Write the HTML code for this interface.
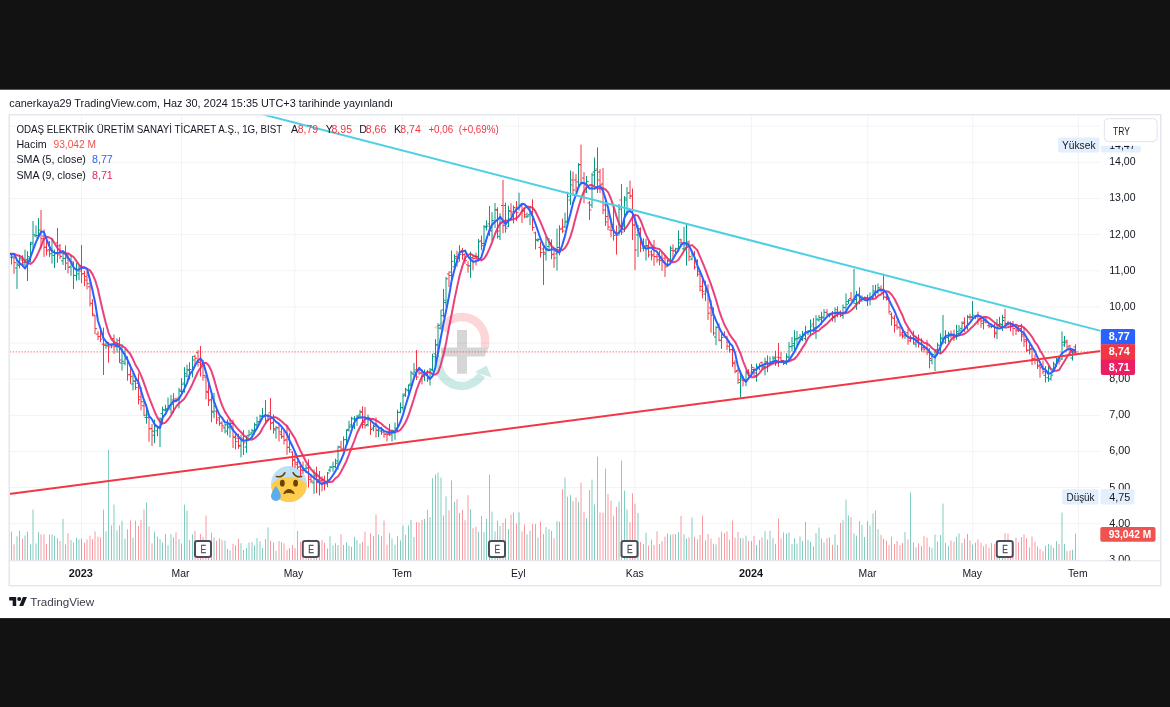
<!DOCTYPE html>
<html lang="tr"><head><meta charset="utf-8"><title>ODAŞ ELEKTRİK — TradingView</title>
<style>
html,body{margin:0;padding:0;background:#121212;}
body{width:1170px;height:707px;overflow:hidden;position:relative;font-family:"Liberation Sans",sans-serif;}
svg text{font-family:"Liberation Sans",sans-serif;}
</style></head><body>
<svg width="1170" height="707" viewBox="0 0 1170 707" style="position:absolute;left:0;top:0"><defs><clipPath id="plot"><rect x="9.7" y="115.2" width="1090.6" height="445.40000000000003"/></clipPath><clipPath id="scale"><rect x="1100.3" y="115.2" width="60.5" height="445.40000000000003"/></clipPath></defs><rect x="0" y="89.7" width="1170" height="528.4" fill="#fff"/><path d="M9.7 523.8H1100.3M9.7 487.6H1100.3M9.7 451.5H1100.3M9.7 415.4H1100.3M9.7 379.2H1100.3M9.7 343.1H1100.3M9.7 306.9H1100.3M9.7 270.8H1100.3M9.7 234.6H1100.3M9.7 198.5H1100.3M9.7 162.3H1100.3M9.7 126.2H1100.3M81.5 115.2V560.6M181.5 115.2V560.6M294.8 115.2V560.6M402.5 115.2V560.6M518.5 115.2V560.6M634.8 115.2V560.6M751.4 115.2V560.6M867.8 115.2V560.6M972.8 115.2V560.6M1078.4 115.2V560.6" stroke="#f1f3f6" stroke-width="1" fill="none"/><g opacity="0.2" fill="none" stroke-width="8.5"><path d="M485.1 347.4V341A23.4 23.4 0 0 0 442.5 327" stroke="#f23645"/><path d="M433.4 327.6 L449.5 333.6 L446.8 319.5 Z" fill="#f23645" stroke="none"/><path d="M438.3 356.6V362.5A23.4 23.4 0 0 0 481.5 375" stroke="#089981"/><path d="M486.5 365.5 L475 372 L491.5 377.5 Z" fill="#089981" stroke="none"/></g><path d="M457 330h10v17.4h21.5l-4 9.2h-17.5v17.2h-10v-17.2h-16v-9.2h16z" fill="#000" opacity="0.16"/><g transform="translate(271,466)"><clipPath id="face"><circle cx="18" cy="18" r="18"/></clipPath><circle cx="18" cy="18" r="18" fill="#bfdff5"/><ellipse cx="18" cy="25.5" rx="20" ry="14.5" fill="#ffcc4d" clip-path="url(#face)"/><ellipse cx="11.3" cy="17.2" rx="2.4" ry="3.4" fill="#664500"/><ellipse cx="24.6" cy="17.2" rx="2.4" ry="3.4" fill="#664500"/><path d="M5.5 10.5c3.5.8 6.6-.6 8.3-3.7" stroke="#664500" stroke-width="1.7" fill="none" stroke-linecap="round"/><path d="M30.5 10.5c-3.5.8-6.6-.6-8.3-3.7" stroke="#664500" stroke-width="1.7" fill="none" stroke-linecap="round"/><path d="M12.8 27.6c.8-2.4 2.7-4 5.2-4s4.400 1.600 5.200 4c-1.500-.8-3.200-1.100-5.200-1.100s-3.700.3-5.200 1.100z" fill="#664500" stroke="#664500" stroke-width="1" stroke-linejoin="round"/><path d="M9.800 30c0 2.700-2.200 4.900-4.900 4.900S0 32.700 0 30s3.900-9.800 4.900-9.800S9.800 27.300 9.800 30z" fill="#5dadec"/></g><g clip-path="url(#plot)"><path d="M9.0 560.6v-27.3M11.5 560.6v-28.9M17.0 560.6v-24.3M19.5 560.6v-29.7M25.0 560.6v-25.0M27.5 560.6v-29.0M30.5 560.6v-16.1M33.0 560.6v-51.0M36.0 560.6v-17.2M38.5 560.6v-28.5M52.0 560.6v-26.2M54.5 560.6v-24.8M63.0 560.6v-41.7M71.0 560.6v-20.4M76.5 560.6v-22.8M79.0 560.6v-21.1M106.0 560.6v-29.3M108.5 560.6v-111.0M114.0 560.6v-56.0M117.0 560.6v-30.3M122.0 560.6v-39.8M125.0 560.6v-22.0M133.0 560.6v-22.9M146.5 560.6v-58.0M154.5 560.6v-28.9M157.5 560.6v-23.7M160.0 560.6v-21.4M162.5 560.6v-18.1M165.5 560.6v-26.7M168.0 560.6v-15.4M171.0 560.6v-26.4M179.0 560.6v-21.6M181.5 560.6v-17.0M184.5 560.6v-56.0M187.0 560.6v-50.0M189.5 560.6v-20.4M192.5 560.6v-26.2M214.0 560.6v-23.1M225.0 560.6v-20.1M227.5 560.6v-11.8M230.0 560.6v-10.2M241.0 560.6v-17.4M246.5 560.6v-12.6M249.0 560.6v-18.0M252.0 560.6v-18.4M254.5 560.6v-15.3M257.0 560.6v-22.5M260.0 560.6v-19.4M262.5 560.6v-12.6M268.0 560.6v-33.2M276.0 560.6v-9.8M306.0 560.6v-12.1M314.0 560.6v-10.4M327.5 560.6v-12.1M330.0 560.6v-24.4M333.0 560.6v-15.3M335.5 560.6v-17.3M338.0 560.6v-15.5M343.5 560.6v-15.7M346.5 560.6v-18.1M349.0 560.6v-14.8M351.5 560.6v-13.9M354.5 560.6v-23.7M357.0 560.6v-20.6M360.0 560.6v-17.1M368.0 560.6v-14.6M373.5 560.6v-24.6M378.5 560.6v-25.9M381.5 560.6v-24.4M392.0 560.6v-22.1M395.0 560.6v-15.9M397.5 560.6v-24.4M400.5 560.6v-20.2M403.0 560.6v-35.0M405.5 560.6v-25.7M408.5 560.6v-35.1M411.0 560.6v-40.7M414.0 560.6v-23.7M424.5 560.6v-41.6M430.0 560.6v-43.5M432.5 560.6v-82.5M435.5 560.6v-86.0M438.0 560.6v-88.0M441.0 560.6v-83.0M443.5 560.6v-45.2M446.0 560.6v-64.2M451.5 560.6v-80.1M454.5 560.6v-58.8M459.5 560.6v-47.6M470.5 560.6v-51.2M478.5 560.6v-28.7M484.0 560.6v-28.4M486.5 560.6v-41.8M489.5 560.6v-86.0M492.0 560.6v-48.9M495.0 560.6v-29.1M500.0 560.6v-34.7M508.5 560.6v-31.5M513.5 560.6v-47.8M519.0 560.6v-48.2M527.0 560.6v-26.3M530.0 560.6v-29.8M538.0 560.6v-23.0M546.0 560.6v-33.4M549.0 560.6v-31.6M557.0 560.6v-39.5M559.5 560.6v-38.9M565.0 560.6v-83.0M567.5 560.6v-63.9M570.5 560.6v-65.5M578.5 560.6v-58.4M586.5 560.6v-42.1M592.0 560.6v-81.0M594.5 560.6v-56.2M619.0 560.6v-58.8M624.5 560.6v-70.0M627.0 560.6v-51.0M638.0 560.6v-47.7M643.5 560.6v-16.5M646.0 560.6v-27.9M667.5 560.6v-27.1M670.5 560.6v-25.8M675.5 560.6v-26.6M678.5 560.6v-28.6M684.0 560.6v-26.3M686.5 560.6v-22.0M692.0 560.6v-43.0M705.5 560.6v-20.2M716.0 560.6v-16.3M721.5 560.6v-28.7M740.5 560.6v-22.6M746.0 560.6v-25.0M751.5 560.6v-19.6M756.5 560.6v-15.6M759.5 560.6v-20.4M765.0 560.6v-29.4M770.0 560.6v-29.9M773.0 560.6v-22.5M786.5 560.6v-27.1M789.0 560.6v-28.2M792.0 560.6v-16.5M794.5 560.6v-22.2M797.0 560.6v-17.0M800.0 560.6v-24.1M802.5 560.6v-19.7M805.5 560.6v-38.7M808.0 560.6v-20.6M810.5 560.6v-18.9M816.0 560.6v-27.5M819.0 560.6v-33.0M821.5 560.6v-22.0M824.0 560.6v-18.3M829.5 560.6v-23.2M835.0 560.6v-26.2M843.0 560.6v-40.4M846.0 560.6v-61.0M848.5 560.6v-45.1M854.0 560.6v-27.1M856.5 560.6v-25.0M862.0 560.6v-35.5M864.5 560.6v-23.6M867.5 560.6v-39.5M870.0 560.6v-35.2M873.0 560.6v-47.2M875.5 560.6v-49.9M878.0 560.6v-31.4M905.0 560.6v-28.5M910.5 560.6v-68.0M916.0 560.6v-13.2M932.0 560.6v-12.7M935.0 560.6v-26.0M937.5 560.6v-19.0M940.5 560.6v-25.5M943.0 560.6v-57.0M945.5 560.6v-17.8M948.5 560.6v-14.7M956.5 560.6v-23.7M959.0 560.6v-27.2M962.0 560.6v-17.6M967.5 560.6v-26.7M972.5 560.6v-15.9M975.5 560.6v-17.9M983.5 560.6v-14.2M991.5 560.6v-17.5M997.0 560.6v-16.6M999.5 560.6v-13.3M1002.5 560.6v-16.1M1029.5 560.6v-13.1M1045.5 560.6v-14.7M1048.5 560.6v-16.6M1051.0 560.6v-15.4M1053.5 560.6v-12.9M1056.5 560.6v-19.4M1062.0 560.6v-48.0M1064.5 560.6v-16.7M1072.5 560.6v-10.9" stroke="#089981" stroke-opacity="0.5" stroke-width="1" fill="none"/><path d="M14.0 560.6v-16.2M22.5 560.6v-21.8M41.0 560.6v-26.1M44.0 560.6v-26.3M46.5 560.6v-16.7M49.5 560.6v-26.0M57.5 560.6v-22.4M60.0 560.6v-19.6M65.5 560.6v-16.2M68.0 560.6v-27.4M73.5 560.6v-18.3M81.5 560.6v-22.1M84.5 560.6v-18.0M87.0 560.6v-21.1M90.0 560.6v-24.8M92.5 560.6v-21.4M95.0 560.6v-29.2M98.0 560.6v-23.9M100.5 560.6v-23.3M103.5 560.6v-51.0M111.5 560.6v-35.2M119.5 560.6v-35.2M127.5 560.6v-31.3M130.5 560.6v-40.0M135.5 560.6v-39.9M138.5 560.6v-34.6M141.0 560.6v-40.7M144.0 560.6v-51.0M149.0 560.6v-34.2M152.0 560.6v-17.2M173.5 560.6v-23.3M176.0 560.6v-28.2M195.0 560.6v-30.0M198.0 560.6v-15.7M200.5 560.6v-26.6M203.0 560.6v-23.6M206.0 560.6v-45.0M208.5 560.6v-14.5M211.5 560.6v-27.9M216.5 560.6v-19.9M219.5 560.6v-22.3M222.0 560.6v-20.5M233.0 560.6v-16.8M235.5 560.6v-15.4M238.5 560.6v-21.7M243.5 560.6v-10.7M265.5 560.6v-21.6M270.5 560.6v-20.0M273.5 560.6v-18.1M279.0 560.6v-19.6M281.5 560.6v-18.5M284.0 560.6v-17.3M287.0 560.6v-10.5M289.5 560.6v-12.6M292.5 560.6v-15.7M295.0 560.6v-12.3M297.5 560.6v-29.6M300.5 560.6v-19.0M303.0 560.6v-9.5M308.5 560.6v-21.1M311.0 560.6v-11.0M316.5 560.6v-20.8M319.5 560.6v-15.3M322.0 560.6v-20.5M324.5 560.6v-17.8M341.0 560.6v-26.4M362.5 560.6v-18.8M365.0 560.6v-29.0M370.5 560.6v-27.3M376.0 560.6v-45.9M384.0 560.6v-40.0M387.0 560.6v-16.0M389.5 560.6v-27.6M416.5 560.6v-38.5M419.0 560.6v-38.2M422.0 560.6v-40.7M427.5 560.6v-50.9M449.0 560.6v-50.2M457.0 560.6v-61.4M462.5 560.6v-50.9M465.0 560.6v-40.3M468.0 560.6v-65.4M473.0 560.6v-32.4M476.0 560.6v-34.0M481.5 560.6v-44.8M497.5 560.6v-39.8M503.0 560.6v-37.7M505.5 560.6v-42.2M511.0 560.6v-45.9M516.5 560.6v-37.3M522.0 560.6v-29.1M524.5 560.6v-36.0M532.5 560.6v-36.5M535.5 560.6v-36.7M540.5 560.6v-39.2M543.5 560.6v-26.5M551.5 560.6v-29.8M554.0 560.6v-22.4M562.5 560.6v-71.4M573.0 560.6v-59.4M576.0 560.6v-63.0M581.0 560.6v-77.8M584.0 560.6v-48.7M589.5 560.6v-70.5M597.5 560.6v-104.0M600.0 560.6v-48.0M603.0 560.6v-47.8M605.5 560.6v-92.0M608.0 560.6v-66.6M611.0 560.6v-60.0M613.5 560.6v-44.8M616.5 560.6v-53.7M621.5 560.6v-100.0M630.0 560.6v-38.4M632.5 560.6v-67.3M635.0 560.6v-56.9M640.5 560.6v-18.7M648.5 560.6v-15.0M651.5 560.6v-21.0M654.0 560.6v-15.7M657.0 560.6v-29.3M659.5 560.6v-16.5M662.0 560.6v-19.6M665.0 560.6v-23.9M673.0 560.6v-26.2M681.0 560.6v-44.7M689.0 560.6v-23.2M694.5 560.6v-23.7M697.5 560.6v-21.2M700.0 560.6v-25.6M702.5 560.6v-45.0M708.0 560.6v-26.6M711.0 560.6v-22.0M713.5 560.6v-16.9M719.0 560.6v-23.3M724.5 560.6v-27.5M727.0 560.6v-29.3M729.5 560.6v-20.8M732.5 560.6v-40.0M735.0 560.6v-23.0M738.0 560.6v-28.7M743.0 560.6v-22.3M748.5 560.6v-19.7M754.0 560.6v-24.8M762.0 560.6v-23.2M767.5 560.6v-21.0M775.5 560.6v-16.7M778.5 560.6v-42.0M781.0 560.6v-22.2M783.5 560.6v-28.3M813.5 560.6v-14.1M827.0 560.6v-22.5M832.5 560.6v-15.9M837.5 560.6v-15.6M840.5 560.6v-37.7M851.0 560.6v-43.5M859.5 560.6v-39.5M881.0 560.6v-25.7M883.5 560.6v-21.8M886.5 560.6v-19.9M889.0 560.6v-15.4M891.5 560.6v-23.9M894.5 560.6v-16.6M897.0 560.6v-19.7M900.0 560.6v-15.4M902.5 560.6v-17.5M908.0 560.6v-21.1M913.5 560.6v-18.3M918.5 560.6v-17.3M921.5 560.6v-14.4M924.0 560.6v-24.4M927.0 560.6v-23.0M929.5 560.6v-13.8M951.0 560.6v-20.1M954.0 560.6v-19.1M964.5 560.6v-21.9M970.0 560.6v-20.2M978.0 560.6v-21.2M981.0 560.6v-18.0M986.0 560.6v-16.8M989.0 560.6v-13.0M994.5 560.6v-16.3M1005.0 560.6v-27.4M1008.0 560.6v-26.9M1010.5 560.6v-13.4M1013.0 560.6v-11.5M1016.0 560.6v-22.9M1018.5 560.6v-18.4M1021.5 560.6v-23.6M1024.0 560.6v-26.2M1026.5 560.6v-22.3M1032.0 560.6v-24.2M1035.0 560.6v-18.8M1037.5 560.6v-13.9M1040.0 560.6v-11.7M1043.0 560.6v-9.4M1059.0 560.6v-16.5M1067.0 560.6v-9.4M1070.0 560.6v-10.0M1075.5 560.6v-27.0" stroke="#f23645" stroke-opacity="0.5" stroke-width="1" fill="none"/><path d="M9.7 351.9H1100.3" stroke="#f23645" stroke-width="1" stroke-dasharray="1 2" fill="none"/><path d="M9.0 251.2V261.7M7.0 255.1H9.0M9.0 254.1H11.0M11.5 253.3V264.5M9.5 257.2H11.5M11.5 256.8H13.5M17.0 260.1V289.0M15.0 268.0H17.0M17.0 264.1H19.0M19.5 254.9V268.4M17.5 265.5H19.5M19.5 258.7H21.5M25.0 249.7V266.7M23.0 262.3H25.0M25.0 261.1H27.0M27.5 251.2V281.0M25.5 259.4H27.5M27.5 256.7H29.5M30.5 241.7V262.1M28.5 258.4H30.5M30.5 244.2H32.5M33.0 221.0V248.7M31.0 242.8H33.0M33.0 234.7H35.0M36.0 225.5V237.2M34.0 235.9H36.0M36.0 235.5H38.0M38.5 218.0V239.0M36.5 237.4H38.5M38.5 230.0H40.5M52.0 238.3V263.6M50.0 253.8H52.0M52.0 251.6H54.0M54.5 249.4V268.0M52.5 255.5H54.5M54.5 253.9H56.5M63.0 253.6V264.9M61.0 260.8H63.0M63.0 258.4H65.0M71.0 254.7V275.8M69.0 266.9H71.0M71.0 261.9H73.0M76.5 263.1V280.7M74.5 275.7H76.5M76.5 271.0H78.5M79.0 265.8V280.2M77.0 273.9H79.0M79.0 266.9H81.0M106.0 342.8V348.9M104.0 345.3H106.0M106.0 345.2H108.0M117.0 338.4V352.7M115.0 346.6H117.0M117.0 345.1H119.0M122.0 344.1V370.6M120.0 363.0H122.0M122.0 361.3H124.0M125.0 348.9V365.3M123.0 363.2H125.0M125.0 358.9H127.0M133.0 373.0V390.5M131.0 384.0H133.0M133.0 381.0H135.0M146.5 404.1V423.7M144.5 417.4H146.5M146.5 414.7H148.5M154.5 419.6V443.2M152.5 435.3H154.5M154.5 426.8H156.5M157.5 425.6V436.3M155.5 430.8H157.5M157.5 427.7H159.5M160.0 417.3V447.0M158.0 428.0H160.0M160.0 419.0H162.0M162.5 406.6V424.3M160.5 413.6H162.5M162.5 409.6H164.5M165.5 404.8V411.4M163.5 410.3H165.5M165.5 409.0H167.5M168.0 397.5V410.5M166.0 409.1H168.0M168.0 405.5H170.0M171.0 394.9V413.5M169.0 409.0H171.0M171.0 404.3H173.0M179.0 387.9V408.4M177.0 398.0H179.0M179.0 390.1H181.0M181.5 378.1V393.4M179.5 391.4H181.5M181.5 384.3H183.5M184.5 367.1V392.6M182.5 383.0H184.5M184.5 373.7H186.5M187.0 364.7V377.1M185.0 376.1H187.0M187.0 369.8H189.0M189.5 362.3V379.4M187.5 370.2H189.5M189.5 369.5H191.5M192.5 356.0V377.4M190.5 371.7H192.5M192.5 360.0H194.5M214.0 392.9V418.1M212.0 412.2H214.0M214.0 406.6H216.0M225.0 423.2V433.4M223.0 427.9H225.0M225.0 424.8H227.0M227.5 419.4V435.4M225.5 431.1H227.5M227.5 426.3H229.5M230.0 420.1V437.6M228.0 427.8H230.0M230.0 423.6H232.0M241.0 434.9V457.4M239.0 445.4H241.0M241.0 441.0H243.0M246.5 435.5V452.7M244.5 447.1H246.5M246.5 440.7H248.5M249.0 429.8V436.9M247.0 435.6H249.0M249.0 434.7H251.0M252.0 428.8V436.4M250.0 433.0H252.0M252.0 430.4H254.0M254.5 422.7V434.6M252.5 431.9H254.5M254.5 424.8H256.5M257.0 416.6V429.2M255.0 424.9H257.0M257.0 421.9H259.0M260.0 414.5V422.6M258.0 421.6H260.0M260.0 416.3H262.0M262.5 408.1V419.2M260.5 416.0H262.5M262.5 415.6H264.5M268.0 414.1V421.7M266.0 415.8H268.0M268.0 415.4H270.0M276.0 425.9V438.6M274.0 429.9H276.0M276.0 427.8H278.0M306.0 464.3V472.8M304.0 468.8H306.0M306.0 468.2H308.0M314.0 469.4V493.9M312.0 482.9H314.0M314.0 475.3H316.0M327.5 472.0V487.2M325.5 483.7H327.5M327.5 473.1H329.5M330.0 466.1V472.2M328.0 470.1H330.0M330.0 467.2H332.0M333.0 461.7V471.7M331.0 467.0H333.0M333.0 466.7H335.0M335.5 458.7V468.4M333.5 466.5H335.5M335.5 463.2H337.5M338.0 445.7V469.8M336.0 460.9H338.0M338.0 446.9H340.0M343.5 436.4V451.0M341.5 449.8H343.5M343.5 439.8H345.5M346.5 429.3V443.3M344.5 439.5H346.5M346.5 430.5H348.5M349.0 420.7V431.7M347.0 429.3H349.0M349.0 426.9H351.0M351.5 416.8V427.8M349.5 424.9H351.5M351.5 418.2H353.5M354.5 416.1V429.1M352.5 419.1H354.5M354.5 418.7H356.5M357.0 414.9V425.9M355.0 420.6H357.0M357.0 416.3H359.0M360.0 409.8V418.3M358.0 415.0H360.0M360.0 411.8H362.0M368.0 414.5V426.6M366.0 424.6H368.0M368.0 419.4H370.0M373.5 424.5V431.3M371.5 428.1H373.5M373.5 426.5H375.5M378.5 427.3V437.0M376.5 430.5H378.5M378.5 430.0H380.5M381.5 426.9V434.8M379.5 431.2H381.5M381.5 429.8H383.5M392.0 429.5V441.5M390.0 433.8H392.0M392.0 430.6H394.0M395.0 422.5V439.8M393.0 433.0H395.0M395.0 428.2H397.0M397.5 409.7V431.5M395.5 430.2H397.5M397.5 412.5H399.5M400.5 402.5V413.3M398.5 412.2H400.5M400.5 407.7H402.5M403.0 393.5V410.4M401.0 407.6H403.0M403.0 395.7H405.0M405.5 387.8V397.0M403.5 394.1H405.5M405.5 389.4H407.5M408.5 384.3V393.6M406.5 390.8H408.5M408.5 385.7H410.5M411.0 370.7V386.2M409.0 384.1H411.0M411.0 373.0H413.0M414.0 363.1V377.7M412.0 374.0H414.0M414.0 372.1H416.0M424.5 369.5V381.2M422.5 376.1H424.5M424.5 374.4H426.5M430.0 367.9V385.4M428.0 378.9H430.0M430.0 369.3H432.0M432.5 353.7V371.4M430.5 370.1H432.5M432.5 356.7H434.5M435.5 339.1V368.2M433.5 353.8H435.5M435.5 344.7H437.5M438.0 323.2V357.1M436.0 345.1H438.0M438.0 325.3H440.0M441.0 309.8V329.3M439.0 328.2H441.0M441.0 315.7H443.0M443.5 288.9V317.4M441.5 309.9H443.5M443.5 300.2H445.5M446.0 276.9V306.8M444.0 302.6H446.0M446.0 278.8H448.0M451.5 250.6V281.9M449.5 272.1H451.5M451.5 261.3H453.5M454.5 254.2V269.5M452.5 266.8H454.5M454.5 258.3H456.5M459.5 245.2V261.6M457.5 258.5H459.5M459.5 254.6H461.5M470.5 251.6V277.8M468.5 265.9H470.5M470.5 257.9H472.5M478.5 238.9V261.4M476.5 256.4H478.5M478.5 241.8H480.5M484.0 225.2V250.6M482.0 243.5H484.0M484.0 226.3H486.0M486.5 220.4V230.5M484.5 227.3H486.5M486.5 226.1H488.5M492.0 212.2V240.7M490.0 230.9H492.0M492.0 220.6H494.0M495.0 202.9V228.0M493.0 222.5H495.0M495.0 209.6H497.0M500.0 213.2V240.1M498.0 236.4H500.0M500.0 223.1H502.0M508.5 205.7V227.3M506.5 226.1H508.5M508.5 211.3H510.5M513.5 205.4V223.4M511.5 214.1H513.5M513.5 207.5H515.5M519.0 192.7V210.6M517.0 207.2H519.0M519.0 205.2H521.0M527.0 212.4V218.1M525.0 216.9H527.0M527.0 216.1H529.0M530.0 206.2V225.2M528.0 214.7H530.0M530.0 212.0H532.0M538.0 238.1V242.1M536.0 240.3H538.0M538.0 239.6H540.0M546.0 236.8V260.5M544.0 254.1H546.0M546.0 248.9H548.0M549.0 238.0V250.5M547.0 246.6H549.0M549.0 243.0H551.0M557.0 228.7V270.6M555.0 253.9H557.0M557.0 247.5H559.0M559.5 225.3V255.3M557.5 247.4H559.5M559.5 229.3H561.5M565.0 212.7V228.1M563.0 226.9H565.0M565.0 222.2H567.0M567.5 191.7V225.9M565.5 221.2H567.5M567.5 196.3H569.5M570.5 170.6V205.0M568.5 200.0H570.5M570.5 185.0H572.5M578.5 163.0V186.0M576.5 182.0H578.5M578.5 165.0H580.5M586.5 176.0V193.0M584.5 192.0H586.5M586.5 181.5H588.5M592.0 173.0V208.0M590.0 205.0H592.0M592.0 175.0H594.0M594.5 157.5V186.0M592.5 172.0H594.5M594.5 170.5H596.5M619.0 204.0V235.4M617.0 233.6H619.0M619.0 209.2H621.0M624.5 196.0V232.0M622.5 226.0H624.5M624.5 198.0H626.5M627.0 187.0V215.0M625.0 200.0H627.0M627.0 193.0H629.0M638.0 224.8V257.0M636.0 234.9H638.0M638.0 229.8H640.0M643.5 238.3V251.4M641.5 248.2H643.5M643.5 245.8H645.5M646.0 238.8V260.5M644.0 246.4H646.0M646.0 245.5H648.0M667.5 259.7V266.7M665.5 264.7H667.5M667.5 261.1H669.5M670.5 246.1V263.3M668.5 259.2H670.5M670.5 248.2H672.5M675.5 247.8V253.1M673.5 250.3H675.5M675.5 249.0H677.5M678.5 230.4V251.6M676.5 248.4H678.5M678.5 242.8H680.5M684.0 226.8V251.3M682.0 248.9H684.0M684.0 245.0H686.0M686.5 223.4V265.5M684.5 248.0H686.5M686.5 242.0H688.5M692.0 249.7V260.3M690.0 259.1H692.0M692.0 253.2H694.0M705.5 280.8V301.1M703.5 294.0H705.5M705.5 291.9H707.5M716.0 326.1V345.2M714.0 337.0H716.0M716.0 327.6H718.0M721.5 333.7V348.8M719.5 340.7H721.5M721.5 337.4H723.5M740.5 370.3V397.5M738.5 382.5H740.5M740.5 378.0H742.5M746.0 370.4V386.2M744.0 379.7H746.0M746.0 373.1H748.0M751.5 364.0V376.6M749.5 375.5H751.5M751.5 367.4H753.5M756.5 363.4V381.6M754.5 375.8H756.5M756.5 366.8H758.5M759.5 363.4V370.3M757.5 367.7H759.5M759.5 365.2H761.5M765.0 357.7V375.4M763.0 366.7H765.0M765.0 361.7H767.0M770.0 356.5V365.0M768.0 363.8H770.0M770.0 361.8H772.0M773.0 355.9V363.1M771.0 362.0H773.0M773.0 358.7H775.0M786.5 353.2V364.8M784.5 363.4H786.5M786.5 357.0H788.5M789.0 342.1V360.5M787.0 357.0H789.0M789.0 346.5H791.0M792.0 337.0V351.5M790.0 346.7H792.0M792.0 345.8H794.0M794.5 330.2V351.3M792.5 343.5H794.5M794.5 339.8H796.5M797.0 331.0V345.0M795.0 338.7H797.0M797.0 338.7H799.0M800.0 334.1V339.6M798.0 337.4H800.0M800.0 336.4H802.0M802.5 330.8V341.1M800.5 339.6H802.5M802.5 335.5H804.5M805.5 325.8V340.5M803.5 338.4H805.5M805.5 331.9H807.5M808.0 330.3V335.1M806.0 332.3H808.0M808.0 331.5H810.0M810.5 319.5V336.0M808.5 330.6H810.5M810.5 326.1H812.5M816.0 315.2V339.1M814.0 330.7H816.0M816.0 319.1H818.0M819.0 315.1V321.7M817.0 320.0H819.0M819.0 317.6H821.0M821.5 311.7V324.7M819.5 319.3H821.5M821.5 318.0H823.5M824.0 309.1V319.5M822.0 317.1H824.0M824.0 312.3H826.0M829.5 313.9V317.4M827.5 315.3H829.5M829.5 315.2H831.5M835.0 307.3V322.4M833.0 317.7H835.0M835.0 312.3H837.0M843.0 304.4V318.8M841.0 315.4H843.0M843.0 307.4H845.0M846.0 293.4V312.9M844.0 307.8H846.0M846.0 304.3H848.0M848.5 299.0V304.0M846.5 301.4H848.5M848.5 300.3H850.5M854.0 268.8V303.9M852.0 301.6H854.0M854.0 299.5H856.0M856.5 290.9V309.9M854.5 303.4H856.5M856.5 295.1H858.5M862.0 295.4V301.8M860.0 299.7H862.0M862.0 298.5H864.0M864.5 296.7V300.5M862.5 298.8H864.5M864.5 298.2H866.5M867.5 294.8V306.1M865.5 299.7H867.5M867.5 298.2H869.5M870.0 292.4V305.3M868.0 298.4H870.0M870.0 297.3H872.0M873.0 285.0V300.2M871.0 297.4H873.0M873.0 291.1H875.0M875.5 284.8V297.0M873.5 292.9H875.5M875.5 291.5H877.5M878.0 283.5V294.1M876.0 292.4H878.0M878.0 287.8H880.0M905.0 331.1V339.0M903.0 335.1H905.0M905.0 334.8H907.0M916.0 335.6V347.4M914.0 344.1H916.0M916.0 340.6H918.0M932.0 352.5V364.4M930.0 360.3H932.0M932.0 354.5H934.0M935.0 349.5V371.2M933.0 356.2H935.0M935.0 352.0H937.0M937.5 342.7V355.4M935.5 349.7H937.5M937.5 345.0H939.5M940.5 333.3V353.7M938.5 345.9H940.5M940.5 337.8H942.5M943.0 315.0V344.3M941.0 339.0H943.0M943.0 338.4H945.0M945.5 330.2V343.8M943.5 342.1H945.5M945.5 337.8H947.5M948.5 331.7V342.0M946.5 337.5H948.5M948.5 336.0H950.5M956.5 324.8V339.6M954.5 336.8H956.5M956.5 331.6H958.5M959.0 325.1V336.1M957.0 333.4H959.0M959.0 330.2H961.0M962.0 321.5V330.6M960.0 328.3H962.0M962.0 323.4H964.0M967.5 315.1V329.8M965.5 327.2H967.5M967.5 316.7H969.5M972.5 301.0V319.5M970.5 316.6H972.5M972.5 315.2H974.5M975.5 315.7V319.1M973.5 317.6H975.5M975.5 316.8H977.5M983.5 317.0V329.4M981.5 323.6H983.5M983.5 320.2H985.5M991.5 324.4V328.2M989.5 326.6H991.5M991.5 326.5H993.5M997.0 319.0V339.2M995.0 333.8H997.0M997.0 326.0H999.0M999.5 316.8V327.0M997.5 324.5H999.5M999.5 323.9H1001.5M1002.5 314.7V331.0M1000.5 324.6H1002.5M1002.5 320.5H1004.5M1029.5 344.2V354.5M1027.5 350.0H1029.5M1029.5 349.7H1031.5M1045.5 366.1V382.5M1043.5 375.3H1045.5M1045.5 371.2H1047.5M1048.5 365.9V381.8M1046.5 377.7H1048.5M1048.5 368.3H1050.5M1051.0 373.0V380.6M1049.0 379.0H1051.0M1051.0 375.0H1053.0M1053.5 361.7V370.4M1051.5 369.0H1053.5M1053.5 364.0H1055.5M1056.5 358.0V367.0M1054.5 365.0H1056.5M1056.5 360.0H1058.5M1062.0 331.4V360.0M1060.0 359.0H1062.0M1062.0 342.2H1064.0M1064.5 336.0V346.8M1062.5 345.0H1064.5M1064.5 342.7H1066.5M1072.5 351.0V360.6M1070.5 358.0H1072.5M1072.5 353.0H1074.5" stroke="#089981" stroke-width="1" fill="none"/><path d="M14.0 255.8V273.8M12.0 257.9H14.0M14.0 262.7H16.0M22.5 255.2V267.0M20.5 260.1H22.5M22.5 264.1H24.5M41.0 210.0V248.6M39.0 234.2H41.0M41.0 238.7H43.0M44.0 229.4V256.9M42.0 236.1H44.0M44.0 247.2H46.0M46.5 238.7V255.6M44.5 247.5H46.5M46.5 250.9H48.5M49.5 241.0V257.1M47.5 249.7H49.5M49.5 250.3H51.5M57.5 228.0V262.7M55.5 242.9H57.5M57.5 254.9H59.5M60.0 243.9V258.9M58.0 245.9H60.0M60.0 256.4H62.0M65.5 245.3V270.0M63.5 254.0H65.5M65.5 263.2H67.5M68.0 253.0V273.5M66.0 257.8H68.0M68.0 267.4H70.0M73.5 261.5V289.0M71.5 263.4H73.5M73.5 275.4H75.5M81.5 245.0V283.3M79.5 271.0H81.5M81.5 274.0H83.5M84.5 270.7V286.1M82.5 273.5H84.5M84.5 276.6H86.5M87.0 271.4V289.4M85.0 280.1H87.0M87.0 283.7H89.0M90.0 280.6V306.4M88.0 286.8H90.0M90.0 303.3H92.0M92.5 299.2V316.2M90.5 303.7H92.5M92.5 314.1H94.5M95.0 314.7V334.2M93.0 315.7H95.0M95.0 328.6H97.0M98.0 331.2V340.2M96.0 334.1H98.0M98.0 336.6H100.0M100.5 329.9V342.2M98.5 336.5H100.5M100.5 339.2H102.5M103.5 327.6V375.0M101.5 344.2H103.5M103.5 344.2H105.5M108.5 341.9V362.6M106.5 346.0H108.5M108.5 346.9H110.5M111.5 343.7V348.3M109.5 345.3H111.5M111.5 346.0H113.5M114.0 334.5V353.8M112.0 338.5H114.0M114.0 346.7H116.0M119.5 337.3V363.0M117.5 340.4H119.5M119.5 360.0H121.5M127.5 356.3V380.7M125.5 358.5H127.5M127.5 374.8H129.5M130.5 364.3V383.8M128.5 374.6H130.5M130.5 376.4H132.5M135.5 376.1V390.0M133.5 381.3H135.5M135.5 387.6H137.5M138.5 373.3V404.4M136.5 383.4H138.5M138.5 399.7H140.5M141.0 387.0V410.4M139.0 396.9H141.0M141.0 401.7H143.0M144.0 399.1V416.3M142.0 405.8H144.0M144.0 415.2H146.0M149.0 415.3V441.7M147.0 417.4H149.0M149.0 428.8H151.0M152.0 423.9V446.0M150.0 428.5H152.0M152.0 431.2H154.0M173.5 393.2V413.1M171.5 399.9H173.5M173.5 401.9H175.5M176.0 397.9V401.4M174.0 399.0H176.0M176.0 399.4H178.0M195.0 354.7V365.4M193.0 356.3H195.0M195.0 358.3H197.0M198.0 350.0V366.5M196.0 352.7H198.0M198.0 362.1H200.0M200.5 346.0V376.5M198.5 362.5H200.5M200.5 363.9H202.5M203.0 359.8V380.7M201.0 363.2H203.0M203.0 375.6H205.0M206.0 374.5V399.4M204.0 377.2H206.0M206.0 391.4H208.0M208.5 380.6V406.0M206.5 392.5H208.5M208.5 400.3H210.5M211.5 396.2V422.2M209.5 399.6H211.5M211.5 411.1H213.5M216.5 409.4V423.9M214.5 411.1H216.5M216.5 419.9H218.5M219.5 416.3V425.8M217.5 417.8H219.5M219.5 423.2H221.5M222.0 421.1V432.1M220.0 423.2H222.0M222.0 425.8H224.0M233.0 419.7V448.0M231.0 423.5H233.0M233.0 436.8H235.0M235.5 432.9V449.5M233.5 437.6H235.5M235.5 441.6H237.5M238.5 433.7V448.8M236.5 438.2H238.5M238.5 446.3H240.5M243.5 430.1V455.0M241.5 438.1H243.5M243.5 442.8H245.5M265.5 400.0V423.7M263.5 416.7H265.5M265.5 420.3H267.5M270.5 398.1V429.9M268.5 412.8H270.5M270.5 423.4H272.5M273.5 414.4V433.7M271.5 422.5H273.5M273.5 428.7H275.5M279.0 423.7V441.5M277.0 427.8H279.0M279.0 431.9H281.0M281.5 427.6V438.7M279.5 434.3H281.5M281.5 436.9H283.5M284.0 429.6V444.5M282.0 436.2H284.0M284.0 440.3H286.0M287.0 425.5V454.8M285.0 439.8H287.0M287.0 447.3H289.0M289.5 433.0V452.6M287.5 447.5H289.5M289.5 449.8H291.5M292.5 451.1V466.7M290.5 452.1H292.5M292.5 459.6H294.5M295.0 453.5V467.8M293.0 460.4H295.0M295.0 462.7H297.0M297.5 460.9V469.3M295.5 464.7H297.5M297.5 467.3H299.5M300.5 462.1V476.6M298.5 466.7H300.5M300.5 470.1H302.5M303.0 461.5V473.7M301.0 470.1H303.0M303.0 470.4H305.0M308.5 459.3V487.5M306.5 467.7H308.5M308.5 477.0H310.5M311.0 474.0V483.1M309.0 479.6H311.0M311.0 481.1H313.0M316.5 466.6V493.1M314.5 476.8H316.5M316.5 482.6H318.5M319.5 471.0V495.5M317.5 479.3H319.5M319.5 481.1H321.5M322.0 476.2V491.3M320.0 480.8H322.0M322.0 482.4H324.0M324.5 475.7V490.4M322.5 479.3H324.5M324.5 483.9H326.5M341.0 440.9V451.0M339.0 447.2H341.0M341.0 449.0H343.0M362.5 406.4V428.5M360.5 412.3H362.5M362.5 424.5H364.5M365.0 407.0V428.4M363.0 422.6H365.0M365.0 425.4H367.0M370.5 418.0V434.9M368.5 419.0H370.5M370.5 429.5H372.5M376.0 417.4V437.5M374.0 425.1H376.0M376.0 430.0H378.0M384.0 431.0V437.7M382.0 432.1H384.0M384.0 434.1H386.0M387.0 431.8V441.4M385.0 434.0H387.0M387.0 434.6H389.0M389.5 423.8V435.9M387.5 433.6H389.5M389.5 434.9H391.5M416.5 350.0V380.0M414.5 369.9H416.5M416.5 377.0H418.5M419.0 367.6V374.9M417.0 370.1H419.0M419.0 373.0H421.0M422.0 369.1V384.4M420.0 373.0H422.0M422.0 376.1H424.0M427.5 369.9V381.9M425.5 373.3H427.5M427.5 378.0H429.5M449.0 271.4V287.1M447.0 274.0H449.0M449.0 275.5H451.0M457.0 250.8V266.5M455.0 256.6H457.0M457.0 261.8H459.0M462.5 247.9V259.8M460.5 250.4H462.5M462.5 254.9H464.5M465.0 252.9V263.8M463.0 254.5H465.0M465.0 260.3H467.0M468.0 261.2V272.7M466.0 264.8H468.0M468.0 265.7H470.0M473.0 255.3V270.2M471.0 257.7H473.0M473.0 258.5H475.0M476.0 252.6V265.4M474.0 256.3H476.0M476.0 256.3H478.0M481.5 235.6V250.1M479.5 240.9H481.5M481.5 245.7H483.5M489.5 206.0V235.9M487.5 223.9H489.5M489.5 230.3H491.5M497.5 207.4V238.6M495.5 210.2H497.5M497.5 231.0H499.5M503.0 180.0V233.3M501.0 205.5H503.0M503.0 225.7H505.0M505.5 202.7V232.7M503.5 205.5H505.5M505.5 228.1H507.5M511.0 203.2V216.5M509.0 210.7H511.0M511.0 212.0H513.0M516.5 201.1V221.0M514.5 209.0H516.5M516.5 212.3H518.5M522.0 203.8V223.0M520.0 205.9H522.0M522.0 210.9H524.0M524.5 207.9V218.2M522.5 211.0H524.5M524.5 214.7H526.5M532.5 199.3V230.8M530.5 211.6H532.5M532.5 227.5H534.5M535.5 231.7V249.4M533.5 232.9H535.5M535.5 239.6H537.5M540.5 241.6V257.6M538.5 247.4H540.5M540.5 252.5H542.5M543.5 244.5V285.0M541.5 249.0H543.5M543.5 252.3H545.5M551.5 239.4V259.2M549.5 243.2H551.5M551.5 254.3H553.5M554.0 250.7V267.9M552.0 254.3H554.0M554.0 258.0H556.0M562.5 218.6V232.8M560.5 228.3H562.5M562.5 231.0H564.5M573.0 171.5V196.0M571.0 180.0H573.0M573.0 190.0H575.0M576.0 174.0V192.0M574.0 180.0H576.0M576.0 188.0H578.0M581.0 144.6V185.0M579.0 164.5H581.0M581.0 183.0H583.0M584.0 172.0V203.0M582.0 178.0H584.0M584.0 185.0H586.0M589.5 201.0V220.0M587.5 203.0H589.5M589.5 210.0H591.5M597.5 147.4V193.0M595.5 169.0H597.5M597.5 180.0H599.5M600.0 169.0V193.0M598.0 172.0H600.0M600.0 185.0H602.0M603.0 168.0V214.0M601.0 184.0H603.0M603.0 210.0H605.0M605.5 200.0V226.0M603.5 205.0H605.5M605.5 222.0H607.5M608.0 209.2V230.3M606.0 216.5H608.0M608.0 227.0H610.0M611.0 218.1V237.3M609.0 230.0H611.0M611.0 230.6H613.0M613.5 207.2V240.6M611.5 227.3H613.5M613.5 235.5H615.5M616.5 225.4V254.6M614.5 233.1H616.5M616.5 235.3H618.5M621.5 184.0V235.0M619.5 200.0H621.5M621.5 232.0H623.5M630.0 180.5V199.0M628.0 193.0H630.0M630.0 196.0H632.0M632.5 188.5V240.0M630.5 196.0H632.5M632.5 225.0H634.5M635.0 215.0V270.0M633.0 225.0H635.0M635.0 250.0H637.0M640.5 227.3V252.2M638.5 228.6H640.5M640.5 243.9H642.5M648.5 241.1V257.5M646.5 246.7H648.5M648.5 254.9H650.5M651.5 250.2V260.4M649.5 251.9H651.5M651.5 255.9H653.5M654.0 239.9V265.8M652.0 254.8H654.0M654.0 256.6H656.0M657.0 253.8V262.6M655.0 256.6H657.0M657.0 259.9H659.0M659.5 250.9V265.4M657.5 256.8H659.5M659.5 260.4H661.5M662.0 251.8V270.9M660.0 257.0H662.0M662.0 261.2H664.0M665.0 254.9V277.0M663.0 258.2H665.0M665.0 266.9H667.0M673.0 244.3V258.1M671.0 250.4H673.0M673.0 251.1H675.0M681.0 238.7V247.1M679.0 239.8H681.0M681.0 242.7H683.0M689.0 240.5V261.2M687.0 243.5H689.0M689.0 256.6H691.0M694.5 250.9V269.6M692.5 255.1H694.5M694.5 267.1H696.5M697.5 259.2V276.6M695.5 260.4H697.5M697.5 274.3H699.5M700.0 270.5V291.5M698.0 271.7H700.0M700.0 286.4H702.0M702.5 276.0V298.4M700.5 290.2H702.5M702.5 291.4H704.5M708.0 284.3V320.1M706.0 290.0H708.0M708.0 313.2H710.0M711.0 300.2V332.7M709.0 307.8H711.0M711.0 315.2H713.0M713.5 307.3V335.6M711.5 313.1H713.5M713.5 333.1H715.5M719.0 323.4V341.2M717.0 325.9H719.0M719.0 340.2H721.0M724.5 331.3V337.4M722.5 335.2H724.5M724.5 336.3H726.5M727.0 335.8V350.2M725.0 337.2H727.0M727.0 346.2H729.0M729.5 340.8V352.6M727.5 342.4H729.5M729.5 349.8H731.5M732.5 347.9V366.9M730.5 349.5H732.5M732.5 362.3H734.5M735.0 360.3V373.3M733.0 363.6H735.0M735.0 371.5H737.0M738.0 368.1V383.9M736.0 370.5H738.0M738.0 379.8H740.0M743.0 376.0V386.4M741.0 380.1H743.0M743.0 380.8H745.0M748.5 369.2V376.4M746.5 371.6H748.5M748.5 372.9H750.5M754.0 367.2V376.3M752.0 369.5H754.0M754.0 372.9H756.0M762.0 361.4V369.1M760.0 362.7H762.0M762.0 367.2H764.0M767.5 355.3V372.2M765.5 362.3H767.5M767.5 363.8H769.5M775.5 350.7V365.8M773.5 357.2H775.5M775.5 362.2H777.5M778.5 343.0V366.8M776.5 357.2H778.5M778.5 361.9H780.5M781.0 352.1V362.0M779.0 357.7H781.0M781.0 360.5H783.0M783.5 360.1V365.0M781.5 361.7H783.5M783.5 363.5H785.5M813.5 318.1V331.9M811.5 324.1H813.5M813.5 327.7H815.5M827.0 308.9V316.6M825.0 312.3H827.0M827.0 314.0H829.0M832.5 311.0V321.5M830.5 314.3H832.5M832.5 316.4H834.5M837.5 306.3V317.3M835.5 309.7H837.5M837.5 313.1H839.5M840.5 310.4V317.0M838.5 312.0H840.5M840.5 315.0H842.5M851.0 292.0V301.3M849.0 298.6H851.0M851.0 299.8H853.0M859.5 287.3V304.3M857.5 294.2H859.5M859.5 301.0H861.5M881.0 285.3V292.4M879.0 289.1H881.0M881.0 289.4H883.0M883.5 273.8V299.9M881.5 289.9H883.5M883.5 296.9H885.5M886.5 294.7V300.5M884.5 297.4H886.5M886.5 299.4H888.5M889.0 297.2V313.8M887.0 298.5H889.0M889.0 311.7H891.0M891.5 312.4V325.5M889.5 314.3H891.5M891.5 317.2H893.5M894.5 315.3V332.7M892.5 318.4H894.5M894.5 325.4H896.5M897.0 320.4V329.7M895.0 325.2H897.0M897.0 327.0H899.0M900.0 325.3V336.7M898.0 327.8H900.0M900.0 334.9H902.0M902.5 328.3V338.6M900.5 332.8H902.5M902.5 336.3H904.5M908.0 328.7V344.8M906.0 332.8H908.0M908.0 340.8H910.0M910.5 335.2V342.1M908.5 338.6H910.5M910.5 339.0H912.5M913.5 330.8V344.5M911.5 338.5H913.5M913.5 342.7H915.5M918.5 334.5V347.6M916.5 339.8H918.5M918.5 343.8H920.5M921.5 338.2V351.7M919.5 344.3H921.5M921.5 349.0H923.5M924.0 344.9V352.5M922.0 347.6H924.0M924.0 349.0H926.0M927.0 339.7V355.1M925.0 347.5H927.0M927.0 352.1H929.0M929.5 348.2V368.4M927.5 352.4H929.5M929.5 358.5H931.5M951.0 330.5V338.2M949.0 333.9H951.0M951.0 335.6H953.0M954.0 329.7V341.1M952.0 336.0H954.0M954.0 336.3H956.0M964.5 317.3V332.0M962.5 322.1H964.5M964.5 328.4H966.5M970.0 313.7V320.0M968.0 317.4H970.0M970.0 317.4H972.0M978.0 311.7V324.7M976.0 316.2H978.0M978.0 319.5H980.0M981.0 315.1V327.8M979.0 318.7H981.0M981.0 321.0H983.0M986.0 316.2V323.4M984.0 322.0H986.0M986.0 322.0H988.0M989.0 324.1V328.3M987.0 325.7H989.0M989.0 325.9H991.0M994.5 323.4V338.0M992.5 326.0H994.5M994.5 332.2H996.5M1005.0 308.8V326.8M1003.0 317.6H1005.0M1005.0 323.4H1007.0M1008.0 320.7V325.9M1006.0 323.5H1008.0M1008.0 323.8H1010.0M1010.5 321.6V331.3M1008.5 323.0H1010.5M1010.5 326.4H1012.5M1013.0 320.9V335.8M1011.0 323.5H1013.0M1013.0 328.5H1015.0M1016.0 324.8V335.0M1014.0 326.6H1016.0M1016.0 330.8H1018.0M1018.5 326.2V332.1M1016.5 329.7H1018.5M1018.5 329.9H1020.5M1021.5 323.9V341.6M1019.5 328.5H1021.5M1021.5 336.1H1023.5M1024.0 326.7V346.8M1022.0 334.7H1024.0M1024.0 341.3H1026.0M1026.5 338.3V352.1M1024.5 339.6H1026.5M1026.5 350.4H1028.5M1032.0 344.8V365.2M1030.0 348.6H1032.0M1032.0 358.6H1034.0M1035.0 354.6V364.4M1033.0 359.0H1035.0M1035.0 359.7H1037.0M1037.5 356.8V369.0M1035.5 360.3H1037.5M1037.5 366.4H1039.5M1040.0 364.2V377.7M1038.0 365.2H1040.0M1040.0 367.8H1042.0M1043.0 360.5V374.2M1041.0 366.3H1043.0M1043.0 371.8H1045.0M1059.0 357.5V364.5M1057.0 359.0H1059.0M1059.0 361.0H1061.0M1067.0 339.6V348.8M1065.0 341.0H1067.0M1067.0 347.0H1069.0M1070.0 344.7V352.0M1068.0 346.0H1070.0M1070.0 350.5H1072.0M1075.5 344.2V354.5M1073.5 347.0H1075.5M1075.5 352.0H1077.5" stroke="#f23645" stroke-width="1" fill="none"/><path d="M8.8 253.5L11.5 253.8L14.2 253.8L16.9 255.2L19.6 255.8L22.3 257.6L25.0 261.3L27.7 263.1L30.4 263.9L33.1 262.0L35.8 257.8L38.5 252.4L41.2 246.0L43.9 238.9L46.6 236.7L49.3 237.5L52.0 239.0L54.7 243.6L57.4 247.9L60.1 250.9L62.8 253.1L65.5 253.2L68.2 253.4L70.9 255.3L73.6 257.0L76.3 260.8L79.0 264.9L81.7 267.0L84.4 267.8L87.1 268.9L89.8 270.1L92.5 274.1L95.2 280.3L97.9 289.3L100.6 301.2L103.3 313.1L106.0 323.7L108.7 333.1L111.4 339.0L114.1 342.1L116.8 343.5L119.5 344.5L122.2 346.1L124.9 347.6L127.6 350.8L130.3 354.0L133.0 359.3L135.7 365.3L138.4 369.7L141.1 375.6L143.8 382.7L146.5 390.4L149.2 397.8L151.9 404.7L154.6 411.5L157.3 417.4L160.0 421.6L162.7 423.6L165.4 422.6L168.1 419.5L170.8 415.8L173.5 410.7L176.2 406.5L178.9 403.4L181.6 401.3L184.3 398.7L187.0 394.2L189.7 389.5L192.4 384.2L195.1 378.0L197.8 372.0L200.5 367.9L203.2 363.4L205.9 362.8L208.6 365.3L211.3 370.7L214.0 378.9L216.7 388.6L219.4 397.9L222.1 405.4L224.8 411.4L227.5 415.7L230.2 419.9L232.9 422.8L235.6 426.1L238.3 429.5L241.0 432.3L243.7 435.2L246.4 437.2L249.1 439.0L251.8 439.7L254.5 438.3L257.2 436.0L259.9 433.2L262.6 428.0L265.3 423.7L268.0 419.7L270.7 418.4L273.4 417.1L276.1 417.4L278.8 419.1L281.5 421.2L284.2 423.8L286.9 425.9L289.6 430.1L292.3 434.4L295.0 438.5L297.7 444.9L300.4 450.7L303.1 455.7L305.8 461.3L308.5 465.7L311.2 469.3L313.9 472.6L316.6 474.3L319.3 477.0L322.0 479.4L324.7 481.2L327.4 481.9L330.1 482.0L332.8 481.4L335.5 478.2L338.2 476.3L340.9 471.9L343.6 466.7L346.3 461.4L349.0 454.4L351.7 447.3L354.4 440.5L357.1 433.0L359.8 427.5L362.5 422.1L365.2 419.0L367.9 417.8L370.6 418.9L373.3 419.0L376.0 420.3L378.7 421.9L381.4 423.8L384.1 426.2L386.8 428.3L389.5 430.2L392.2 431.5L394.9 432.1L397.6 431.6L400.3 430.0L403.0 426.4L405.7 422.0L408.4 415.7L411.1 407.6L413.8 399.3L416.5 390.1L419.2 383.0L421.9 376.9L424.6 373.3L427.3 372.3L430.0 372.0L432.7 374.5L435.4 374.6L438.1 372.5L440.8 364.8L443.5 354.7L446.2 342.4L448.9 327.7L451.6 314.5L454.3 300.1L457.0 287.4L459.7 275.3L462.4 266.1L465.1 257.9L467.8 255.1L470.5 253.8L473.2 255.3L475.9 256.9L478.6 259.5L481.3 260.3L484.0 258.7L486.7 254.6L489.4 248.9L492.1 242.2L494.8 234.5L497.5 228.2L500.2 223.3L502.9 221.4L505.6 220.5L508.3 220.7L511.0 219.9L513.7 219.1L516.4 218.3L519.1 215.7L521.8 211.5L524.5 208.2L527.2 206.5L529.9 206.9L532.6 207.7L535.3 211.2L538.0 216.8L540.7 222.5L543.4 229.2L546.1 235.6L548.8 241.4L551.5 245.9L554.2 248.4L556.9 250.0L559.6 250.6L562.3 250.2L565.0 248.0L567.7 243.5L570.4 236.7L573.1 227.6L575.8 217.1L578.5 207.2L581.2 198.0L583.9 191.7L586.6 187.1L589.3 185.2L592.0 185.1L594.7 186.7L597.4 188.4L600.1 188.2L602.8 188.1L605.5 189.5L608.2 192.4L610.9 198.7L613.6 206.6L616.3 215.6L619.0 223.7L621.7 228.9L624.4 229.5L627.1 226.2L629.8 221.8L632.5 216.9L635.2 214.9L637.9 215.6L640.6 220.4L643.3 227.7L646.0 234.9L648.7 240.3L651.4 245.0L654.1 247.8L656.8 248.5L659.5 249.1L662.2 252.2L664.9 255.2L667.6 258.5L670.3 261.2L673.0 262.3L675.7 261.7L678.4 259.8L681.1 255.7L683.8 251.3L686.5 247.3L689.2 245.9L691.9 245.1L694.6 247.4L697.3 250.2L700.0 256.7L702.7 262.8L705.4 269.4L708.1 276.8L710.8 283.9L713.5 291.9L716.2 300.3L718.9 309.8L721.6 317.6L724.3 324.5L727.0 329.4L729.7 334.7L732.4 338.3L735.1 341.8L737.8 347.4L740.5 353.5L743.2 361.5L745.9 368.2L748.6 374.9L751.3 377.2L754.0 377.2L756.7 376.0L759.4 373.1L762.1 369.7L764.8 367.9L767.5 366.6L770.2 364.9L772.9 363.5L775.6 363.0L778.3 362.0L781.0 361.7L783.7 361.7L786.4 361.5L789.1 361.4L791.8 360.0L794.5 359.0L797.2 355.9L799.9 351.9L802.6 347.4L805.3 343.6L808.0 338.2L810.7 334.9L813.4 333.7L816.1 331.4L818.8 330.6L821.5 327.9L824.2 325.9L826.9 323.8L829.6 320.9L832.3 318.1L835.0 316.1L837.7 314.3L840.4 313.2L843.1 313.0L845.8 313.3L848.5 312.2L851.2 310.2L853.9 307.8L856.6 304.4L859.3 301.4L862.0 298.7L864.7 297.8L867.4 298.1L870.1 299.6L872.8 298.8L875.5 298.5L878.2 295.7L880.9 294.5L883.6 291.8L886.3 291.1L889.0 292.0L891.7 294.7L894.4 298.7L897.1 304.0L899.8 309.9L902.5 315.5L905.2 322.6L907.9 327.0L910.6 331.3L913.3 335.2L916.0 337.3L918.7 339.0L921.4 340.5L924.1 342.8L926.8 343.4L929.5 345.4L932.2 348.2L934.9 350.2L937.6 352.5L940.3 353.6L943.0 351.5L945.7 348.3L948.4 344.2L951.1 339.6L953.8 337.4L956.5 335.7L959.2 335.2L961.9 334.8L964.6 333.7L967.3 331.8L970.0 329.1L972.7 326.6L975.4 323.7L978.1 320.7L980.8 318.4L983.5 317.0L986.2 317.1L988.9 317.8L991.6 320.0L994.3 322.3L997.0 324.4L999.7 326.0L1002.4 327.1L1005.1 327.6L1007.8 327.3L1010.5 326.5L1013.2 325.8L1015.9 324.6L1018.6 326.2L1021.3 325.7L1024.0 327.8L1026.7 330.3L1029.4 333.4L1032.1 337.0L1034.8 341.8L1037.5 345.2L1040.2 350.7L1042.9 355.1L1045.6 360.2L1048.3 364.3L1051.0 369.5L1053.7 371.0L1056.4 370.8L1059.1 370.0L1061.8 365.6L1064.5 361.2L1067.2 356.6L1069.9 352.9L1072.6 350.6L1075.3 352.6" stroke="#e91e63" stroke-opacity="0.85" stroke-width="2" fill="none" stroke-linejoin="round"/><path d="M8.8 253.8L11.5 254.4L14.2 254.1L16.9 259.8L19.6 263.1L22.3 265.2L25.0 268.4L27.7 264.0L30.4 257.5L33.1 249.8L35.8 242.7L38.5 236.7L41.2 231.6L43.9 232.0L46.6 239.4L49.3 246.2L52.0 251.1L54.7 252.7L57.4 253.1L60.1 252.5L62.8 251.1L65.5 253.4L68.2 257.9L70.9 262.0L73.6 267.4L76.3 269.8L79.0 269.4L81.7 267.9L84.4 267.3L87.1 268.9L89.8 279.1L92.5 290.2L95.2 303.0L97.9 320.5L100.6 329.0L103.3 337.9L106.0 341.5L108.7 344.3L111.4 344.4L114.1 344.1L116.8 345.6L119.5 347.0L122.2 350.7L124.9 355.0L127.6 359.9L130.3 366.2L133.0 371.6L135.7 378.1L138.4 382.1L141.1 390.8L143.8 399.7L146.5 406.7L149.2 416.2L151.9 419.1L154.6 424.3L157.3 426.7L160.0 427.9L162.7 417.4L165.4 414.2L168.1 408.6L170.8 404.5L173.5 401.1L176.2 401.0L178.9 399.1L181.6 394.3L184.3 388.9L187.0 383.1L189.7 374.5L192.4 371.0L195.1 365.3L197.8 360.7L200.5 358.4L203.2 362.5L205.9 371.9L208.6 382.0L211.3 391.9L214.0 401.4L216.7 408.7L219.4 414.8L222.1 417.9L224.8 422.1L227.5 422.8L230.2 425.1L232.9 430.0L235.6 433.1L238.3 436.5L241.0 439.4L243.7 440.8L246.4 440.3L249.1 439.8L251.8 437.4L254.5 432.1L257.2 427.8L259.9 422.5L262.6 417.3L265.3 415.1L268.0 415.9L270.7 416.9L273.4 418.8L276.1 421.8L278.8 423.6L281.5 426.5L284.2 430.0L286.9 433.9L289.6 440.5L292.3 446.0L295.0 451.8L297.7 458.8L300.4 464.4L303.1 468.5L305.8 471.4L308.5 473.2L311.2 475.5L313.9 477.8L316.6 479.5L319.3 482.5L322.0 484.2L324.7 482.7L327.4 481.6L330.1 479.2L332.8 475.2L335.5 471.1L338.2 465.9L340.9 460.3L343.6 454.0L346.3 445.3L349.0 438.2L351.7 430.3L354.4 422.3L357.1 418.4L359.8 417.4L362.5 417.3L365.2 417.6L367.9 418.9L370.6 420.2L373.3 423.1L376.0 424.5L378.7 427.5L381.4 428.7L384.1 431.1L386.8 431.8L389.5 432.4L392.2 432.6L394.9 431.7L397.6 427.8L400.3 422.3L403.0 414.7L405.7 405.3L408.4 396.4L411.1 387.9L413.8 378.6L416.5 372.3L419.2 367.8L421.9 371.1L424.6 373.6L427.3 375.6L430.0 378.9L432.7 375.9L435.4 367.2L438.1 352.0L440.8 337.7L443.5 323.4L446.2 310.3L448.9 296.9L451.6 280.8L454.3 270.2L457.0 260.8L459.7 252.4L462.4 251.5L465.1 250.6L467.8 255.9L470.5 259.6L473.2 261.8L475.9 261.3L478.6 259.9L481.3 257.6L484.0 248.0L486.7 238.3L489.4 230.3L492.1 224.8L494.8 221.9L497.5 219.8L500.2 216.8L502.9 220.5L505.6 224.3L508.3 220.5L511.0 218.6L513.7 213.1L516.4 209.5L519.1 207.5L521.8 203.8L524.5 204.3L527.2 207.2L529.9 210.7L532.6 216.2L535.3 223.4L538.0 231.3L540.7 239.2L543.4 245.1L546.1 249.3L548.8 250.4L551.5 249.4L554.2 249.3L556.9 251.8L559.6 252.4L562.3 245.0L565.0 235.9L567.7 223.7L570.4 213.9L573.1 202.7L575.8 195.1L578.5 187.2L581.2 182.8L583.9 182.9L586.6 184.6L589.3 188.4L592.0 188.2L594.7 188.7L597.4 186.9L600.1 186.2L602.8 190.5L605.5 198.9L608.2 208.2L610.9 220.9L613.6 230.5L616.3 234.1L619.0 232.6L621.7 229.1L624.4 218.0L627.1 212.3L629.8 210.9L632.5 213.0L635.2 220.1L637.9 229.5L640.6 237.8L643.3 246.6L646.0 248.8L648.7 248.0L651.4 247.5L654.1 250.4L656.8 251.4L659.5 256.0L662.2 260.0L664.9 263.3L667.6 265.6L670.3 263.6L673.0 258.9L675.7 254.1L678.4 250.1L681.1 245.0L683.8 243.0L686.5 243.3L689.2 245.9L691.9 251.9L694.6 257.4L697.3 265.3L700.0 271.3L702.7 278.2L705.4 285.1L708.1 292.8L710.8 303.7L713.5 314.4L716.2 320.8L718.9 326.9L721.6 332.4L724.3 335.9L727.0 338.9L729.7 343.1L732.4 346.0L735.1 353.1L737.8 365.9L740.5 372.8L743.2 378.5L745.9 381.8L748.6 378.1L751.3 374.9L754.0 370.4L756.7 369.3L759.4 366.4L762.1 365.6L764.8 363.9L767.5 363.6L770.2 363.3L772.9 362.2L775.6 360.4L778.3 361.9L781.0 362.1L783.7 361.5L786.4 362.1L789.1 360.1L791.8 355.9L794.5 351.6L797.2 346.3L799.9 340.8L802.6 336.3L805.3 332.7L808.0 332.2L810.7 330.5L813.4 330.4L816.1 328.1L818.8 326.1L821.5 322.8L824.2 319.8L826.9 316.9L829.6 314.2L832.3 313.2L835.0 313.1L837.7 312.7L840.4 313.3L843.1 313.4L845.8 311.8L848.5 307.2L851.2 303.8L853.9 299.4L856.6 294.7L859.3 295.7L862.0 298.7L864.7 299.9L867.4 300.4L870.1 298.0L872.8 296.0L875.5 292.7L878.2 290.5L880.9 289.8L883.6 290.0L886.3 292.9L889.0 299.9L891.7 305.5L894.4 310.7L897.1 317.5L899.8 323.6L902.5 329.3L905.2 334.4L907.9 336.9L910.6 337.6L913.3 338.4L916.0 340.4L918.7 342.9L921.4 344.0L924.1 346.6L926.8 348.5L929.5 351.4L932.2 356.0L934.9 357.5L937.6 352.9L940.3 347.1L943.0 340.3L945.7 336.1L948.4 335.6L951.1 334.6L953.8 334.8L956.5 336.1L959.2 335.0L961.9 331.4L964.6 329.0L967.3 325.7L970.0 322.6L972.7 318.9L975.4 316.3L978.1 315.3L980.8 316.8L983.5 318.7L986.2 320.6L988.9 323.3L991.6 324.7L994.3 327.0L997.0 328.1L999.7 328.5L1002.4 327.3L1005.1 326.1L1007.8 323.2L1010.5 323.5L1013.2 324.6L1015.9 326.7L1018.6 329.1L1021.3 331.4L1024.0 333.1L1026.7 337.7L1029.4 342.2L1032.1 347.0L1034.8 351.1L1037.5 357.3L1040.2 362.9L1042.9 368.5L1045.6 369.9L1048.3 373.9L1051.0 372.9L1053.7 370.9L1056.4 364.3L1059.1 357.8L1061.8 353.5L1064.5 351.5L1067.2 349.7L1069.9 348.7L1072.6 349.5L1075.3 350.3" stroke="#2962ff" stroke-width="2" fill="none" stroke-linejoin="round"/><path d="M9 494L1100.8 351.1" stroke="#f23645" stroke-width="2" fill="none"/><path d="M250 111.1L1100.8 330.9" stroke="#4dd0e1" stroke-width="2" fill="none"/></g><rect x="195" y="541" width="16" height="16" rx="2.2" fill="#fff" stroke="#4b4e5a" stroke-width="2"/><text x="203.3" y="553" font-size="11" text-anchor="middle" fill="#4b4e5a" stroke="#4b4e5a" stroke-width="0.3" textLength="5.6" lengthAdjust="spacingAndGlyphs">E</text><rect x="302.75" y="541" width="16" height="16" rx="2.2" fill="#fff" stroke="#4b4e5a" stroke-width="2"/><text x="311.05" y="553" font-size="11" text-anchor="middle" fill="#4b4e5a" stroke="#4b4e5a" stroke-width="0.3" textLength="5.6" lengthAdjust="spacingAndGlyphs">E</text><rect x="489" y="541" width="16" height="16" rx="2.2" fill="#fff" stroke="#4b4e5a" stroke-width="2"/><text x="497.3" y="553" font-size="11" text-anchor="middle" fill="#4b4e5a" stroke="#4b4e5a" stroke-width="0.3" textLength="5.6" lengthAdjust="spacingAndGlyphs">E</text><rect x="621.5" y="541" width="16" height="16" rx="2.2" fill="#fff" stroke="#4b4e5a" stroke-width="2"/><text x="629.8" y="553" font-size="11" text-anchor="middle" fill="#4b4e5a" stroke="#4b4e5a" stroke-width="0.3" textLength="5.6" lengthAdjust="spacingAndGlyphs">E</text><rect x="996.75" y="541" width="16" height="16" rx="2.2" fill="#fff" stroke="#4b4e5a" stroke-width="2"/><text x="1005.05" y="553" font-size="11" text-anchor="middle" fill="#4b4e5a" stroke="#4b4e5a" stroke-width="0.3" textLength="5.6" lengthAdjust="spacingAndGlyphs">E</text><path d="M9.2 560.8000000000001H1160.8" stroke="#e0e3eb" stroke-width="1" fill="none"/><text x="80.75" y="577" font-size="10.9" text-anchor="middle" fill="#131722" font-weight="bold">2023</text><text x="180.5" y="577" font-size="10.4" text-anchor="middle" fill="#131722">Mar</text><text x="293.5" y="577" font-size="10.4" text-anchor="middle" fill="#131722">May</text><text x="402" y="577" font-size="10.4" text-anchor="middle" fill="#131722">Tem</text><text x="518.25" y="577" font-size="10.4" text-anchor="middle" fill="#131722">Eyl</text><text x="634.75" y="577" font-size="10.4" text-anchor="middle" fill="#131722">Kas</text><text x="751" y="577" font-size="10.9" text-anchor="middle" fill="#131722" font-weight="bold">2024</text><text x="867.5" y="577" font-size="10.4" text-anchor="middle" fill="#131722">Mar</text><text x="972.25" y="577" font-size="10.4" text-anchor="middle" fill="#131722">May</text><text x="1077.75" y="577" font-size="10.4" text-anchor="middle" fill="#131722">Tem</text><g clip-path="url(#scale)"><text x="1109.2" y="562.9" font-size="10.6" fill="#131722" textLength="21.0" lengthAdjust="spacingAndGlyphs">3,00</text><text x="1109.2" y="526.7" font-size="10.6" fill="#131722" textLength="21.0" lengthAdjust="spacingAndGlyphs">4,00</text><text x="1109.2" y="490.5" font-size="10.6" fill="#131722" textLength="21.0" lengthAdjust="spacingAndGlyphs">5,00</text><text x="1109.2" y="454.4" font-size="10.6" fill="#131722" textLength="21.0" lengthAdjust="spacingAndGlyphs">6,00</text><text x="1109.2" y="418.2" font-size="10.6" fill="#131722" textLength="21.0" lengthAdjust="spacingAndGlyphs">7,00</text><text x="1109.2" y="382.1" font-size="10.6" fill="#131722" textLength="21.0" lengthAdjust="spacingAndGlyphs">8,00</text><text x="1109.2" y="345.9" font-size="10.6" fill="#131722" textLength="21.0" lengthAdjust="spacingAndGlyphs">9,00</text><text x="1109.2" y="309.8" font-size="10.6" fill="#131722" textLength="26.3" lengthAdjust="spacingAndGlyphs">10,00</text><text x="1109.2" y="273.6" font-size="10.6" fill="#131722" textLength="26.3" lengthAdjust="spacingAndGlyphs">11,00</text><text x="1109.2" y="237.5" font-size="10.6" fill="#131722" textLength="26.3" lengthAdjust="spacingAndGlyphs">12,00</text><text x="1109.2" y="201.4" font-size="10.6" fill="#131722" textLength="26.3" lengthAdjust="spacingAndGlyphs">13,00</text><text x="1109.2" y="165.2" font-size="10.6" fill="#131722" textLength="26.3" lengthAdjust="spacingAndGlyphs">14,00</text></g><rect x="1058" y="137.5" width="41.5" height="15.1" rx="2" fill="#e3effd"/><rect x="1101" y="137.5" width="39.8" height="15.1" rx="2" fill="#e3effd"/><text x="1062" y="148.9" font-size="10.6" fill="#131722" textLength="33.5" lengthAdjust="spacingAndGlyphs">Yüksek</text><text x="1109.2" y="148.9" font-size="10.6" fill="#131722" textLength="26.3" lengthAdjust="spacingAndGlyphs">14,47</text><rect x="1062.2" y="489.3" width="36.3" height="15.2" rx="2" fill="#e3effd"/><rect x="1100.5" y="489.3" width="34" height="15.2" rx="2" fill="#e3effd"/><text x="1066.5" y="500.8" font-size="10.6" fill="#131722" textLength="28" lengthAdjust="spacingAndGlyphs">Düşük</text><text x="1109.2" y="500.8" font-size="10.6" fill="#131722" textLength="21" lengthAdjust="spacingAndGlyphs">4,75</text><rect x="1100.6" y="115.4" width="59.6" height="30.4" fill="#fff"/><rect x="1104.3" y="118.7" width="52.8" height="22.9" rx="4" fill="#fff" stroke="#e0e3eb" stroke-width="1"/><text x="1113" y="134.6" font-size="11.3" fill="#131722" textLength="16.8" lengthAdjust="spacingAndGlyphs">TRY</text><path d="M1100.8 331a2 2 0 0 1 2-2h30.300a2 2 0 0 1 2 2v13.500h-34.300z" fill="#2962ff"/><rect x="1100.8" y="344.2" width="34.3" height="15.9" fill="#f23645"/><path d="M1100.8 359.800h34.300v13.200a2 2 0 0 1-2 2h-30.300a2 2 0 0 1-2-2z" fill="#e91e63"/><text x="1108.7" y="339.8" font-size="10.9" font-weight="bold" fill="#fff" textLength="21.1" lengthAdjust="spacingAndGlyphs">8,77</text><text x="1108.7" y="355.2" font-size="10.9" font-weight="bold" fill="#fff" textLength="21.1" lengthAdjust="spacingAndGlyphs">8,74</text><text x="1108.7" y="370.5" font-size="10.9" font-weight="bold" fill="#fff" textLength="21.1" lengthAdjust="spacingAndGlyphs">8,71</text><rect x="1100.3" y="527" width="55.2" height="14.800" rx="2" fill="#ef5350"/><text x="1108.7" y="538.400" font-size="10.9" font-weight="bold" fill="#fff" textLength="42.5" lengthAdjust="spacingAndGlyphs">93,042 M</text><rect x="9.2" y="114.7" width="1151.6" height="471.00000000000006" fill="none" stroke="#e2e5ec" stroke-width="1.4"/><text x="9.3" y="107.3" font-size="11.4" fill="#131722" textLength="383.7" lengthAdjust="spacingAndGlyphs">canerkaya29 TradingView.com, Haz 30, 2024 15:35 UTC+3 tarihinde yayınlandı</text><text x="16.4" y="132.5" font-size="10.7" fill="#131722" textLength="265.9" lengthAdjust="spacingAndGlyphs">ODAŞ ELEKTRİK ÜRETİM SANAYİ TİCARET A.Ş., 1G, BIST</text><text x="290.9" y="132.5" font-size="10.7" fill="#131722">A</text><text x="297.7" y="132.5" font-size="10.7" fill="#f23645" textLength="20.5" lengthAdjust="spacingAndGlyphs">8,79</text><text x="325.8" y="132.5" font-size="10.7" fill="#131722">Y</text><text x="331.5" y="132.5" font-size="10.7" fill="#f23645" textLength="20.5" lengthAdjust="spacingAndGlyphs">8,95</text><text x="359.2" y="132.5" font-size="10.7" fill="#131722">D</text><text x="365.8" y="132.5" font-size="10.7" fill="#f23645" textLength="20.5" lengthAdjust="spacingAndGlyphs">8,66</text><text x="394.1" y="132.5" font-size="10.7" fill="#131722">K</text><text x="400.3" y="132.5" font-size="10.7" fill="#f23645" textLength="20.5" lengthAdjust="spacingAndGlyphs">8,74</text><text x="428.4" y="132.5" font-size="10.7" fill="#f23645" textLength="24.8" lengthAdjust="spacingAndGlyphs">+0,06</text><text x="458.7" y="132.5" font-size="10.7" fill="#f23645" textLength="40" lengthAdjust="spacingAndGlyphs">(+0,69%)</text><text x="16.4" y="147.6" font-size="10.7" fill="#131722">Hacim</text><text x="53.5" y="147.6" font-size="10.7" fill="#ef5350" textLength="42.5" lengthAdjust="spacingAndGlyphs">93,042 M</text><text x="16.4" y="163.100" font-size="10.7" fill="#131722">SMA (5, close)</text><text x="92" y="163.100" font-size="10.7" fill="#2962ff">8,77</text><text x="16.4" y="178.700" font-size="10.7" fill="#131722">SMA (9, close)</text><text x="92" y="178.700" font-size="10.7" fill="#e91e63">8,71</text><g transform="translate(9.2,594.9) scale(0.5)" fill="#131722"><path d="M14 22H7V11H0V4h14v18zM28 22h-8l7.500-18h8L28 22z"/><circle cx="20" cy="8" r="4"/></g><text x="30.300" y="605.800" font-size="11.2" fill="#3a3e4a" textLength="63.9" lengthAdjust="spacingAndGlyphs">TradingView</text></svg>
</body></html>
